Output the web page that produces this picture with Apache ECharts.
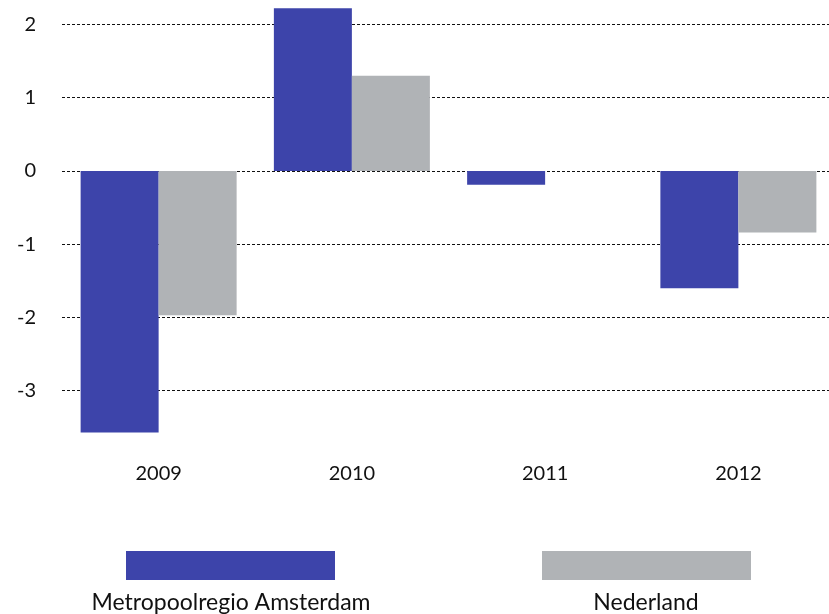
<!DOCTYPE html>
<html>
<head>
<meta charset="utf-8">
<script src="https://cdn.jsdelivr.net/npm/echarts@6/dist/echarts.min.js"></script>
<style>
    html, body { margin: 0; padding: 0; background: #fff; overflow: hidden; }
    /* the plot area runs a few px past the right edge of the page */
    #chart { width: 835px; height: 614px; }
</style>
</head>
<body>
<div id="chart"></div>
<script>
var years = ['2009', '2010', '2011', '2012'];
var metropoolValues = [-3.57, 2.22, -0.19, -1.6];
var nederlandValues = [-1.97, 1.3, 0, -0.84];
var seriesNames = ['Metropoolregio Amsterdam', 'Nederland'];

var blue = '#3d44aa';
var grey = '#b0b3b6';
var font = 'Lato, "Open Sans", sans-serif';

var myChart = echarts.init(document.getElementById('chart'));
var option = {
    animation: false,
    grid: {
        left: 62,
        right: 0,
        top: 0,
        bottom: 150
    },
    legend: [{
        data: [seriesNames[0]],
        left: 126,
        top: 551,
        padding: 0,
        icon: 'rect',
        itemWidth: 209,
        itemHeight: 29,
        selectedMode: false,
        formatter: function () { return ''; }
    }, {
        data: [seriesNames[1]],
        left: 542,
        top: 551,
        padding: 0,
        icon: 'rect',
        itemWidth: 209,
        itemHeight: 29,
        selectedMode: false,
        formatter: function () { return ''; }
    }],
    // legend captions sit under the swatches, not beside them
    graphic: [{
        type: 'text',
        x: 231,
        y: 603,
        style: {
            text: seriesNames[0],
            font: '23px ' + font,
            fill: '#111',
            align: 'center',
            verticalAlign: 'middle'
        }
    }, {
        type: 'text',
        x: 646,
        y: 603,
        style: {
            text: seriesNames[1],
            font: '23px ' + font,
            fill: '#111',
            align: 'center',
            verticalAlign: 'middle'
        }
    }],
    xAxis: {
        type: 'category',
        data: years,
        axisLine: { show: false, onZero: false },
        axisTick: { show: false },
        axisLabel: {
            margin: 0,
            fontSize: 20,
            fontFamily: font,
            color: '#111'
        }
    },
    yAxis: {
        type: 'value',
        min: -4,
        max: 2.333,
        interval: 1,
        axisLine: { show: false },
        axisTick: { show: false },
        axisLabel: {
            margin: 26,
            fontSize: 20,
            fontFamily: font,
            color: '#111',
            formatter: function (v) {
                if (v === -4 || v !== Math.round(v)) return '';
                return v;
            }
        },
        splitLine: {
            showMinLine: false,
            showMaxLine: false,
            lineStyle: {
                color: '#111',
                type: [3, 2],
                width: 1
            }
        }
    },
    series: [
        {
            name: seriesNames[0],
            type: 'bar',
            data: metropoolValues,
            barWidth: 78,
            barGap: '0%',
            itemStyle: { color: blue }
        },
        {
            name: seriesNames[1],
            type: 'bar',
            data: nederlandValues,
            barWidth: 78,
            itemStyle: { color: grey }
        }
    ]
};
myChart.setOption(option);
</script>
</body>
</html>
